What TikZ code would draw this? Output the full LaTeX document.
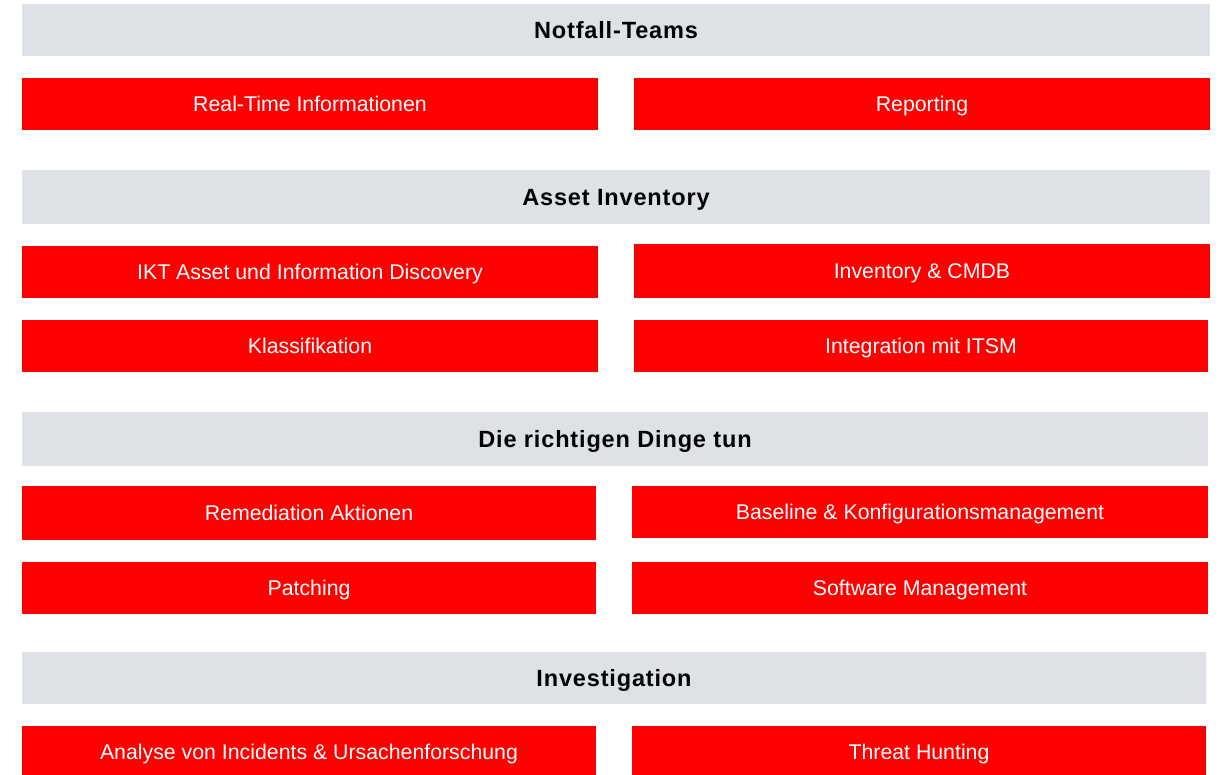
\documentclass[tikz,border=0pt]{standalone}
\usepackage{fontspec}
\setmainfont{Liberation Sans}
\newfontfamily\titlefont[LetterSpace=3.6]{Liberation Sans}
\definecolor{barGrey}{RGB}{222,225,229}
\definecolor{boxRed}{RGB}{255,0,0}
\begin{document}
\begin{tikzpicture}[x=1pt,y=-1pt,
  base/.style={inner sep=0pt,outer sep=0pt,draw=none,anchor=center},
  titlebar/.style={base,fill=barGrey,text=black,font=\titlefont\fontsize{23.5}{26}\selectfont\bfseries,text height=16.8pt,text depth=0pt},
  redbox/.style={base,fill=boxRed,text=white,font=\fontsize{21.3}{24}\selectfont,text height=15.3pt,text depth=0pt}]
\useasboundingbox (0,0) rectangle (1223,774);
\fill[white] (0,0) rectangle (1223,774);
% Notfall-Teams
\node[titlebar,minimum width=1188pt,minimum height=52pt] (g1) at (616,30) {Notfall-Teams};
\node[redbox,minimum width=576pt,minimum height=52pt] (r1l) at (310,104) {Real-Time Informationen};
\node[redbox,minimum width=576pt,minimum height=52pt] (r1r) at (922,104) {Reporting};
% Asset Inventory
\node[titlebar,minimum width=1188pt,minimum height=54pt] (g2) at (616,197) {Asset Inventory};
\node[redbox,minimum width=576pt,minimum height=52pt] (a1l) at (310,272) {IKT Asset und Information Discovery};
\node[redbox,minimum width=576pt,minimum height=54pt] (a1r) at (922,271) {Inventory \& CMDB};
\node[redbox,minimum width=576pt,minimum height=52pt] (a2l) at (310,346) {Klassifikation};
\node[redbox,minimum width=574pt,minimum height=52pt] (a2r) at (921,346) {Integration mit ITSM};
% Die richtigen Dinge tun
\node[titlebar,minimum width=1186pt,minimum height=54pt] (g3) at (615,439) {Die richtigen Dinge tun};
\node[redbox,minimum width=574pt,minimum height=54pt] (d1l) at (309,513) {Remediation Aktionen};
\node[redbox,minimum width=576pt,minimum height=52pt] (d1r) at (920,512) {Baseline \& Konfigurationsmanagement};
\node[redbox,minimum width=574pt,minimum height=52pt] (d2l) at (309,588) {Patching};
\node[redbox,minimum width=576pt,minimum height=52pt] (d2r) at (920,588) {Software Management};
% Investigation
\node[titlebar,minimum width=1184pt,minimum height=52pt] (g4) at (614,678) {Investigation};
\node[redbox,minimum width=574pt,minimum height=52pt] (i1l) at (309,752) {Analyse von Incidents \& Ursachenforschung};
\node[redbox,minimum width=574pt,minimum height=52pt] (i1r) at (919,752) {Threat Hunting};
\end{tikzpicture}
\end{document}
